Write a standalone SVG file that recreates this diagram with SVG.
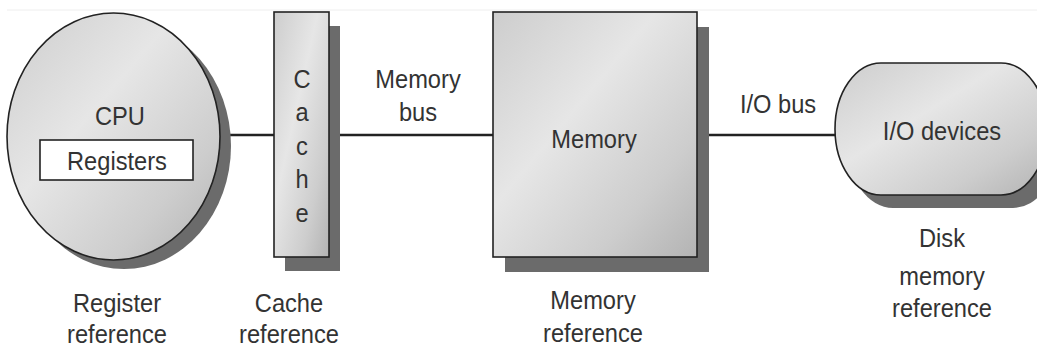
<svg xmlns="http://www.w3.org/2000/svg" width="1037" height="347" viewBox="0 0 1037 347">
<style>
.t{font-family:"Liberation Sans",Arial,sans-serif;font-size:26px;fill:#333;text-anchor:middle;transform-box:fill-box;transform-origin:center;transform:scaleX(0.91)}
.sh{fill:#6b6b6b}
.body{fill:url(#g);stroke:#222;stroke-width:1.6}
.conn{stroke:#222;stroke-width:2.5;fill:none}
</style>
<defs>
<linearGradient id="g" x1="0" y1="0" x2="1" y2="1">
<stop offset="0" stop-color="#cdcdcd"/>
<stop offset="0.4" stop-color="#e6e6e6"/>
<stop offset="0.75" stop-color="#cdcdcd"/>
<stop offset="1" stop-color="#b3b3b3"/>
</linearGradient>
</defs>
<rect width="1037" height="347" fill="#fff"/>
<line x1="7" y1="10" x2="1037" y2="10" stroke="#eeeeee" stroke-width="1"/>
<g id="connectors">
<line class="conn" x1="219" y1="135" x2="274" y2="135"/>
<line class="conn" x1="329" y1="135" x2="493" y2="135"/>
<line class="conn" x1="697" y1="135" x2="836" y2="135"/>
</g>
<g id="cpu">
<ellipse class="sh" cx="124" cy="146" rx="107" ry="123"/>
<ellipse class="body" cx="113.5" cy="136.5" rx="106.5" ry="123.5"/>
<text class="t" x="120" y="125">CPU</text>
<rect x="40" y="140" width="153" height="40" fill="#fff" stroke="#222" stroke-width="1.6"/>
<text class="t" x="117" y="170">Registers</text>
</g>
<g id="cache">
<rect class="sh" x="285" y="26" width="55" height="245"/>
<rect class="body" x="274" y="12" width="55" height="245"/>
<text class="t" x="302" y="88">C</text>
<text class="t" x="302" y="121.5">a</text>
<text class="t" x="302" y="155">c</text>
<text class="t" x="302" y="188.5">h</text>
<text class="t" x="302" y="222">e</text>
</g>
<g id="memory">
<rect class="sh" x="505" y="27" width="204" height="245"/>
<rect class="body" x="493" y="12" width="204" height="245"/>
<text class="t" x="594" y="148">Memory</text>
</g>
<g id="io">
<rect class="sh" x="847" y="76" width="212" height="132" rx="46" ry="66"/>
<rect class="body" x="835" y="63" width="212" height="132" rx="46" ry="66"/>
<text class="t" x="942" y="140">I/O devices</text>
</g>
<g id="labels">
<text class="t" x="418" y="88">Memory</text>
<text class="t" x="418" y="121">bus</text>
<text class="t" x="778" y="113">I/O bus</text>
<text class="t" x="117" y="312">Register</text>
<text class="t" x="117" y="343">reference</text>
<text class="t" x="289" y="312">Cache</text>
<text class="t" x="289" y="343">reference</text>
<text class="t" x="593" y="309">Memory</text>
<text class="t" x="593" y="342">reference</text>
<text class="t" x="942" y="247">Disk</text>
<text class="t" x="942" y="285">memory</text>
<text class="t" x="942" y="317">reference</text>
</g>
</svg>
